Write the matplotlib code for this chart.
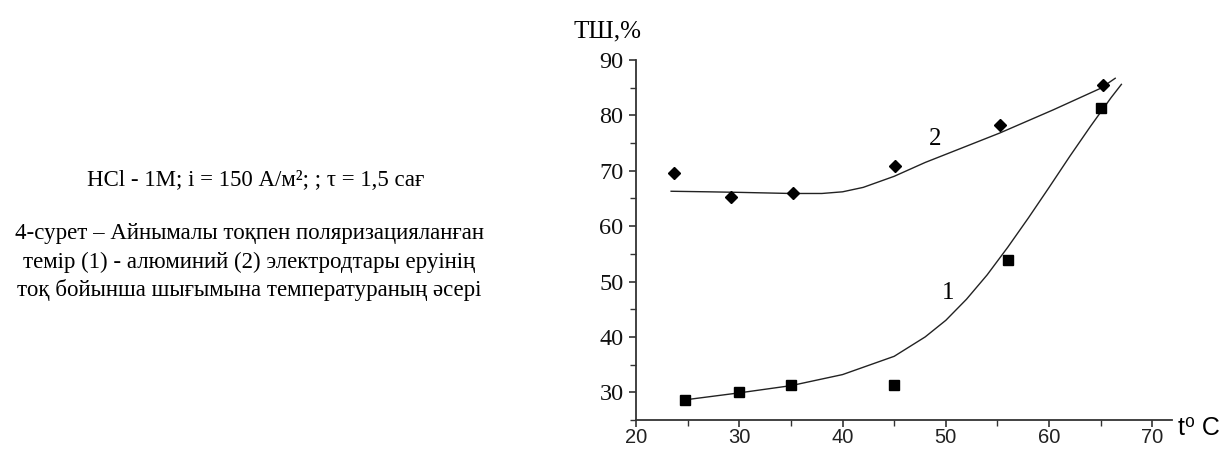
import matplotlib
matplotlib.use("Agg")
import matplotlib.pyplot as plt
from matplotlib.ticker import MultipleLocator

SERIF = ["Liberation Serif", "DejaVu Serif"]
SANS = ["Liberation Sans", "DejaVu Sans"]

# measured points: iron (1) and aluminium (2)
t_fe = [24.7, 30.0, 35.0, 45.0, 56.0, 65.0]
cy_fe = [28.6, 30.0, 31.3, 31.3, 53.9, 81.3]
t_al = [23.7, 29.2, 35.2, 45.1, 55.2, 65.2]
cy_al = [69.6, 65.3, 66.0, 70.8, 78.2, 85.5]

# fitted trend lines as drawn
fit_t_fe = [25, 30, 35, 40, 45, 48, 50, 52, 54, 56, 58, 60, 62, 64, 66, 67]
fit_cy_fe = [28.7, 29.9, 31.2, 33.2, 36.5, 40.0, 43.0, 46.8, 51.2, 56.2, 61.5, 67.0, 72.6, 78.0, 83.2, 85.6]
fit_t_al = [23.4, 27, 30, 35, 38, 40, 42, 45, 48, 51.4, 55.2, 60.4, 65.0, 66.4]
fit_cy_al = [66.3, 66.2, 66.1, 65.9, 65.9, 66.2, 67.0, 69.0, 71.5, 74.0, 76.8, 81.0, 84.9, 86.7]

x_ticks = [20, 30, 40, 50, 60, 70]
y_ticks = [30, 40, 50, 60, 70, 80, 90]

conditions = "HCl - 1M; i = 150 А/м²; ; τ = 1,5 сағ"
caption = ["4-сурет – Айнымалы тоқпен поляризацияланған",
           "темір (1) - алюминий (2) электродтары еруінің",
           "тоқ бойынша шығымына температураның әсері"]

W, H = 1223, 450
fig = plt.figure(figsize=(W / 100, H / 100), dpi=100)
ax = fig.add_axes([636 / W, 30 / H, 536 / W, 360 / H])

ax.plot(fit_t_fe, fit_cy_fe, color="#222222", lw=1.0)
ax.plot(fit_t_al, fit_cy_al, color="#222222", lw=1.0)
ax.plot(t_fe, cy_fe, ls="none", marker="s", ms=6.5, color="black")
ax.plot(t_al, cy_al, ls="none", marker="D", ms=6, color="black")

ax.set_xlim(20, 71.9)
ax.set_ylim(25, 90)
ax.set_xticks(x_ticks)
ax.set_yticks(y_ticks)
ax.xaxis.set_minor_locator(MultipleLocator(5))
ax.yaxis.set_minor_locator(MultipleLocator(5))
for s in ("top", "right"):
    ax.spines[s].set_visible(False)
for s in ("left", "bottom"):
    ax.spines[s].set_linewidth(1.3)
    ax.spines[s].set_color("#333333")
ax.tick_params(which="major", direction="out", length=5, width=1.2, color="#333333")
ax.tick_params(which="minor", direction="out", length=4, width=1.0, color="#333333")
ax.tick_params(axis="x", pad=0.5)
ax.tick_params(axis="y", pad=4)
for lab in ax.get_xticklabels():
    lab.set_fontfamily(SANS)
    lab.set_fontsize(14.5)
    lab.set_color("#222222")
for lab in ax.get_yticklabels():
    lab.set_fontfamily(SERIF)
    lab.set_fontsize(17.5)
    lab.set_color("#111111")

ax.text(50.2, 47.9, "1", family=SERIF, fontsize=18, ha="center", va="center")
ax.text(49.0, 75.7, "2", family=SERIF, fontsize=18, ha="center", va="center")

fig.text(608 / W, 1 - 31 / H, "ТШ,%", family=SERIF, fontsize=18, ha="center", va="center")
fig.text(1178 / W, 1 - 428 / H, "t⁰ C", family=SANS, fontsize=18, ha="left", va="center")

fig.text(256 / W, 1 - 181 / H, conditions, family=SERIF, fontsize=16.5, ha="center", va="center")
for i, line in enumerate(caption):
    fig.text(249 / W, 1 - (234 + 28 * i) / H, line, family=SERIF, fontsize=16.5,
             ha="center", va="center")

fig.savefig("out.png", dpi=100)
